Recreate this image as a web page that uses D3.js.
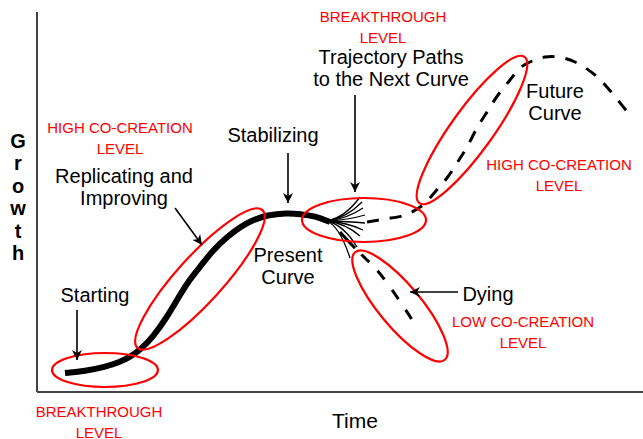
<!DOCTYPE html>
<html>
<head>
<meta charset="utf-8">
<script src="https://cdn.jsdelivr.net/npm/d3@7"></script>
<style>
  html, body { margin: 0; padding: 0; background: #fff; }
  svg { display: block; font-family: "Liberation Sans", Arial, Helvetica, sans-serif; }
</style>
</head>
<body>
<div id="chart"></div>
<script>
// time / growth units (time 0..606, growth 0..380)
const presentCurve = [
  [28, 19], [48, 21], [68, 25], [83, 30], [93, 35], [103, 42], [116, 55],
  [130, 75], [140, 92], [150, 109], [163, 125], [176, 142], [190, 155],
  [203, 165], [216, 172], [230, 177], [250, 179], [263, 178], [278, 176],
  [293, 170]
];
const fanOrigin = [290, 171];
const fanEnds = [
  [323, 195], [325, 190], [326, 184], [328, 177], [328, 169],
  [326, 162], [323, 156], [320, 145], [313, 134]
];
const futurePath = [
  [330, 170], [348, 173], [368, 177], [386, 187], [398, 200], [410, 214],
  [420, 229], [430, 245], [440, 264], [450, 280], [461, 297], [473, 312],
  [483, 324], [495, 331], [508, 335], [521, 335], [538, 330], [558, 317],
  [575, 299], [595, 274]
];
const dyingPath = [
  [303, 160], [315, 147], [328, 134], [340, 122], [353, 105], [366, 86],
  [375, 72], [380, 60]
];
// center time, center growth, half length, half width, tilt (deg)
const ellipses = [
  [68, 22, 53, 17, 0],
  [163, 113, 93, 23, -47.8],
  [327, 172, 62, 22, 0],
  [435, 262, 90, 21, -54.3],
  [363, 86, 70, 21, 50.2]
];
const arrows = [
  [[40, 82], [40, 32]],
  [[138, 184], [165, 147]],
  [[251, 239], [251, 189]],
  [[318, 297], [318, 200]],
  [[421, 100], [373, 100]]
];
const blackLabels = [
  { lines: ["Replicating and", "Improving"], at: [87, 209] },
  { lines: ["Stabilizing"], at: [236, 250] },
  { lines: ["Starting"], at: [58, 90] },
  { lines: ["Present", "Curve"], at: [251, 130] },
  { lines: ["Trajectory Paths", "to the Next Curve"], at: [354, 328] },
  { lines: ["Future", "Curve"], at: [518, 294] },
  { lines: ["Dying"], at: [451, 91] }
];
const redLabels = [
  { lines: ["HIGH CO-CREATION", "LEVEL"], at: [83, 259] },
  { lines: ["BREAKTHROUGH", "LEVEL"], at: [346, 370] },
  { lines: ["HIGH CO-CREATION", "LEVEL"], at: [522, 222] },
  { lines: ["LOW CO-CREATION", "LEVEL"], at: [486, 65] },
  { lines: ["BREAKTHROUGH", "LEVEL"], at: [62, -25] }
];
const xTitle = "Time";
const yTitle = "Growth";

const width = 643, height = 439;

const svg = d3.select("#chart")
    .append("svg")
    .attr("width", width)
    .attr("height", height);

const x = d3.scaleLinear().domain([0, 606]).range([37, 643]);
const y = d3.scaleLinear().domain([0, 380]).range([392, 12]);

// --- axes ---
svg.append("line")
    .attr("x1", x(0)).attr("x2", x(0))
    .attr("y1", y(380)).attr("y2", y(0))
    .attr("stroke", "#444").attr("stroke-width", 2);
svg.append("line")
    .attr("x1", x(0)).attr("x2", x(606))
    .attr("y1", y(0)).attr("y2", y(0))
    .attr("stroke", "#444").attr("stroke-width", 2);

// arrow head
svg.append("defs").append("marker")
    .attr("id", "head")
    .attr("viewBox", "0 0 10 10")
    .attr("refX", 10).attr("refY", 5)
    .attr("markerWidth", 10).attr("markerHeight", 10)
    .attr("markerUnits", "userSpaceOnUse")
    .attr("orient", "auto")
  .append("path")
    .attr("d", "M0,0 L10,5 L0,10 L3,5 Z")
    .attr("fill", "#000");

const line = d3.line()
    .x(d => x(d[0]))
    .y(d => y(d[1]))
    .curve(d3.curveCatmullRom);

const smoothLine = d3.line()
    .x(d => x(d[0]))
    .y(d => y(d[1]))
    .curve(d3.curveBasis);

// --- curves ---
svg.append("path")
    .attr("d", line(futurePath))
    .attr("fill", "none")
    .attr("stroke", "#000")
    .attr("stroke-width", 3)
    .attr("stroke-dasharray", "12,11");

svg.append("path")
    .attr("d", line(dyingPath))
    .attr("fill", "none")
    .attr("stroke", "#000")
    .attr("stroke-width", 3)
    .attr("stroke-dasharray", "22,9,11,12,11,13,11,13,11,40");

svg.append("g")
  .selectAll("path")
  .data(fanEnds)
  .join("path")
    .attr("d", d => {
        const x0 = x(fanOrigin[0]), y0 = y(fanOrigin[1]);
        const x1 = x(d[0]), y1 = y(d[1]);
        const cx = x0 + (x1 - x0) * 0.55, cy = y0 + (y1 - y0) * 0.15;
        return `M${x0},${y0} Q${cx},${cy} ${x1},${y1}`;
    })
    .attr("fill", "none")
    .attr("stroke", "#000")
    .attr("stroke-width", 1.3);

svg.append("path")
    .attr("d", smoothLine(presentCurve))
    .attr("fill", "none")
    .attr("stroke", "#000")
    .attr("stroke-width", 6)
    .attr("stroke-linecap", "butt");

// --- ellipses ---
svg.append("g")
  .selectAll("ellipse")
  .data(ellipses)
  .join("ellipse")
    .attr("transform", d => `translate(${x(d[0])},${y(d[1])}) rotate(${d[4]})`)
    .attr("rx", d => x(d[2]) - x(0))
    .attr("ry", d => x(d[3]) - x(0))
    .attr("fill", "none")
    .attr("stroke", "#f00")
    .attr("stroke-width", 2.2);

// --- arrows ---
svg.append("g")
  .selectAll("line")
  .data(arrows)
  .join("line")
    .attr("x1", d => x(d[0][0])).attr("y1", d => y(d[0][1]))
    .attr("x2", d => x(d[1][0])).attr("y2", d => y(d[1][1]))
    .attr("stroke", "#000")
    .attr("stroke-width", 1.6)
    .attr("marker-end", "url(#head)");

// --- labels ---
function drawLabels(data, size, lineH, color) {
    svg.append("g")
      .selectAll("text")
      .data(data)
      .join("text")
        .attr("x", d => x(d.at[0]))
        .attr("y", d => y(d.at[1]))
        .attr("text-anchor", "middle")
        .attr("font-size", size + "px")
        .attr("fill", color)
        .each(function(d) {
            d3.select(this).selectAll("tspan")
              .data(d.lines)
              .join("tspan")
                .attr("x", x(d.at[0]))
                .attr("dy", (_, i) => i ? lineH : 0)
                .text(t => t);
        });
}
drawLabels(blackLabels, 20, 22, "#000");
drawLabels(redLabels, 15, 20.5, "#f00");

svg.append("text")
    .attr("x", x(318)).attr("y", y(-36))
    .attr("text-anchor", "middle")
    .attr("font-size", "21px")
    .attr("fill", "#000")
    .text(xTitle);

svg.append("g")
  .selectAll("text")
  .data(yTitle.split(""))
  .join("text")
    .attr("x", 18)
    .attr("y", (_, i) => 148 + i * 22.4)
    .attr("text-anchor", "middle")
    .attr("font-size", "20px")
    .attr("font-weight", "bold")
    .attr("fill", "#000")
    .text(d => d);
</script>
</body>
</html>
